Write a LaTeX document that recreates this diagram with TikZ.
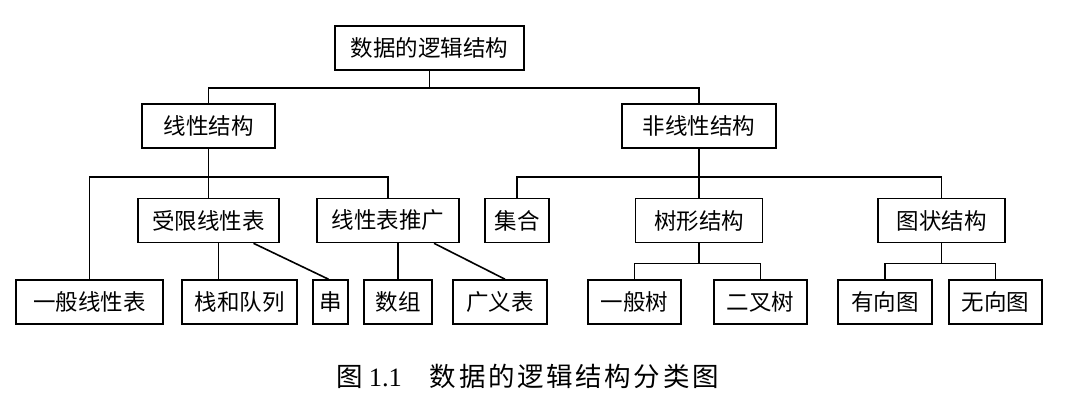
\documentclass[tikz,border=0pt]{standalone}
\usepackage{fontspec}
\setmainfont{Liberation Serif}
\newfontfamily\cjkfont{Noto Sans CJK SC}
\newfontfamily\capfont[LetterSpace=10]{Noto Sans CJK SC}
\usepackage{tikz}
\tikzset{
  box/.style={rectangle, draw=black, line width=1.6pt, minimum height=44pt, inner sep=0pt, text centered},
  link/.style={line width=1.6pt}
}
\begin{document}
\begin{tikzpicture}[x=1pt, y=-1pt, every node/.style={font=\cjkfont\fontsize{22.5}{26}\selectfont}]
        \useasboundingbox (0,0) rectangle (1067,405);

        % 第一、二层
        \node (root) [box, minimum width=189pt] at (429.5,48) {数据的逻辑结构};
        \node (lin) [box, minimum width=133pt] at (208.5,126) {线性结构};
        \node (nonlin) [box, minimum width=154pt] at (699,126) {非线性结构};

        % 第三层
        \node (restr) [box, minimum width=141pt] at (208.5,220.5) {受限线性表};
        \node (gen) [box, minimum width=142pt] at (388,220.5) {线性表推广};
        \node (set) [box, minimum width=64pt] at (517,220.5) {集合};
        \node (tree) [box, minimum width=127pt] at (699,220.5) {树形结构};
        \node (graph) [box, minimum width=127pt] at (941.5,220.5) {图状结构};

        % 第四层
        \node (genlist) [box, minimum width=147pt] at (89.5,302) {一般线性表};
        \node (stack) [box, minimum width=115pt] at (239.5,302) {栈和队列};
        \node (str) [box, minimum width=35pt] at (330.5,302) {串};
        \node (arr) [box, minimum width=68pt] at (398,302) {数组};
        \node (glist) [box, minimum width=94pt] at (500,302) {广义表};
        \node (gtree) [box, minimum width=93pt] at (634.5,302) {一般树};
        \node (btree) [box, minimum width=93pt] at (760.5,302) {二叉树};
        \node (dgraph) [box, minimum width=94pt] at (885,302) {有向图};
        \node (ugraph) [box, minimum width=93pt] at (995.5,302) {无向图};

        % 图题
        \node (cap) [font=\fontsize{26.5}{30}\selectfont] at (527.5,376) {{\capfont 图}\hspace{6pt}1.1\hspace{28pt}{\capfont 数据的逻辑结构分类图}};

        % 连线
        \draw [link] (root.south) -- ++(0,17) coordinate (rj);
        \draw [link] (lin.north) |- (rj) -| (nonlin.north);

        \draw [link] (lin.south) -- ++(0,28) coordinate (lj) -- (restr.north);
        \draw [link] (genlist.north) |- (lj) -| (gen.north);

        \draw [link] (nonlin.south) -- ++(0,28) coordinate (nj) -- (tree.north);
        \draw [link] (set.north) |- (nj) -| (graph.north);

        \draw [link] ([xshift=10pt]restr.south) -- ([xshift=10pt]restr.south |- stack.north);
        \draw [link] ([xshift=45pt]restr.south) -- ([xshift=-2pt]str.north);
        \draw [link] (arr.north) -- (arr.north |- gen.south);
        \draw [link] ([xshift=46pt]gen.south) -- ([xshift=5pt]glist.north);

        \draw [link] (tree.south) -- ++(0,20) coordinate (tj);
        \draw [link] (gtree.north) |- (tj) -| (btree.north);
        \draw [link] (graph.south) -- ++(0,20) coordinate (gj);
        \draw [link] (dgraph.north) |- (gj) -| (ugraph.north);

    \end{tikzpicture}
\end{document}
